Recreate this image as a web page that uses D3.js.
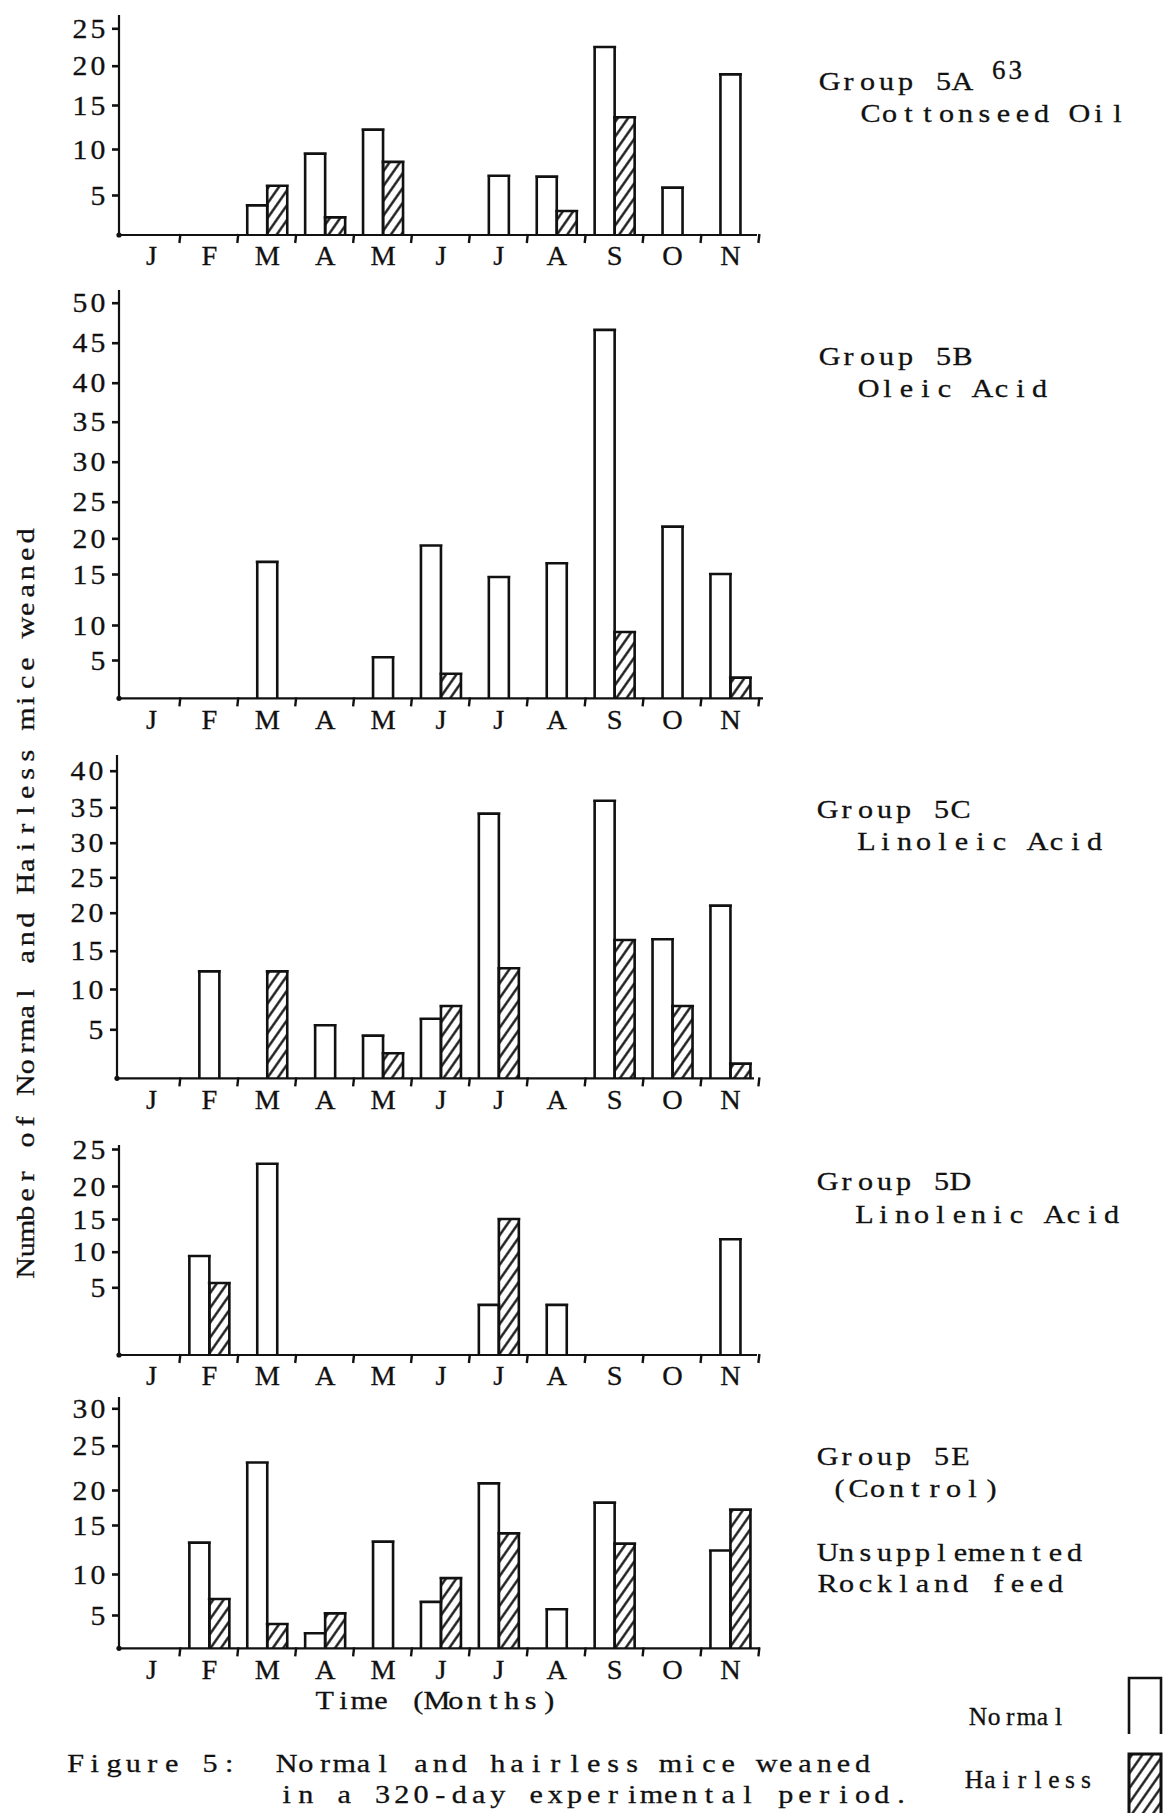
<!DOCTYPE html>
<html>
<head>
<meta charset="utf-8">
<script src="https://cdn.jsdelivr.net/npm/d3@7"></script>
<style>
  body { margin: 0; background: #fff; }
  svg { display: block; }
  text { font-family: "Liberation Serif", serif; fill: #111; stroke: #111; stroke-width: 0.3; white-space: pre; }
</style>
</head>
<body>
<svg id="chart"></svg>
<script>
const months = ["J", "F", "M", "A", "M", "J", "J", "A", "S", "O", "N"];

// Group 5A, cottonseed oil
const normal5A = [0, 0, 3.7, 9.5, 12.2, 0, 7.1, 7, 22.5, 5.8, 18.9];
const hairless5A = [0, 0, 6, 2.2, 8.6, 0, 0, 3, 13.6, 0, 0];
const ticks5A = [0, 5, 10, 15, 20, 25];

// Group 5B, oleic acid
const normal5B = [0, 0, 16.7, 0, 5.4, 19, 14.7, 16.5, 46.6, 21.6, 15];
const hairless5B = [0, 0, 0, 0, 0, 3.2, 0, 0, 9, 0, 2.7];
const ticks5B = [0, 5, 10, 15, 20, 25, 30, 35, 40, 45, 50];

// Group 5C, linoleic acid
const normal5C = [0, 12.3, 0, 5.5, 4.35, 6.3, 34.1, 0, 35.9, 16.5, 21];
const hairless5C = [0, 0, 12.3, 0, 2.55, 7.9, 12.7, 0, 16.4, 7.9, 1.5];
const ticks5C = [0, 5, 10, 15, 20, 25, 30, 35, 40];

// Group 5D, linolenic acid
const normal5D = [0, 9.4, 23, 0, 0, 0, 3.7, 3.7, 0, 0, 11.9];
const hairless5D = [0, 5.6, 0, 0, 0, 0, 15, 0, 0, 0, 0];
const ticks5D = [0, 5, 10, 15, 20, 25];

// Group 5E, control
const normal5E = [0, 13.2, 23.1, 2.25, 13.3, 6.6, 20.75, 5.7, 18.2, 0, 12.4];
const hairless5E = [0, 6.95, 3.65, 5.2, 0, 9.5, 14.15, 0, 13.1, 0, 17.2];
const ticks5E = [0, 5, 10, 15, 20, 25, 30];

const width = 1165;
const height = 1813;
const barW = 20;

// hand-typed axes: tick pixel positions measured per panel
const panels = [
  { normal: normal5A, hairless: hairless5A, ticks: ticks5A,
    tickPx: [235, 195, 149, 105, 65.7, 28.3], axisX: 119, top: 15, end: 757,
    notes: [["Group 5A", 820, 81], ["Cottonseed Oil", 861, 113]] },
  { normal: normal5B, hairless: hairless5B, ticks: ticks5B,
    tickPx: [698.3, 660, 625, 574, 538.3, 501.7, 461.7, 421.7, 382.7, 342.7, 302.7],
    axisX: 119, top: 290, end: 763,
    notes: [["Group 5B", 820, 356], ["Oleic Acid", 859, 388]] },
  { normal: normal5C, hairless: hairless5C, ticks: ticks5C,
    tickPx: [1078.3, 1029.3, 989, 950.7, 912.7, 877.3, 842.7, 807.3, 770.7],
    axisX: 117, top: 755, end: 754,
    notes: [["Group 5C", 818, 809], ["Linoleic Acid", 857, 841]] },
  { normal: normal5D, hairless: hairless5D, ticks: ticks5D,
    tickPx: [1355, 1287.3, 1251.7, 1219, 1186, 1149], axisX: 119, top: 1145, end: 757,
    notes: [["Group 5D", 818, 1181], ["Linolenic Acid", 855, 1214]] },
  { normal: normal5E, hairless: hairless5E, ticks: ticks5E,
    tickPx: [1648.3, 1615, 1574, 1525, 1490, 1445.7, 1408.3], axisX: 119, top: 1397, end: 760,
    notes: [["Group 5E", 818, 1456], ["(Control)", 830, 1488],
            ["Unsupplemented", 818, 1552], ["Rockland feed", 818, 1583]] }
];

const chart = d3
  .select("#chart")
  .attr("width", width)
  .attr("height", height)
  .attr("viewBox", `0 0 ${width} ${height}`);

chart.append("rect").attr("width", width).attr("height", height).attr("fill", "#fff");

// typewriter look: a serif face set on a fixed pitch, one glyph per cell
function typewrite(parent, str, x, y, opts = {}) {
  const { size = 26, pitch = 19, anchor = "start", stretch = 1.16, rotate = 0 } = opts;
  const chars = Array.from(str);
  const x0 = anchor === "middle" ? (-pitch * chars.length) / 2 : anchor === "end" ? -pitch * chars.length : 0;
  const xs = chars.map((c, i) => (x0 + pitch * (i + 0.5)) / stretch);
  return parent
    .append("text")
    .attr("transform", `translate(${x},${y}) rotate(${rotate}) scale(${stretch},1)`)
    .attr("x", xs.join(" "))
    .attr("y", 0)
    .attr("text-anchor", "middle")
    .attr("dominant-baseline", "central")
    .attr("font-size", size)
    .text(str);
}

const defs = chart.append("defs");
const hatch = defs
  .append("pattern")
  .attr("id", "hatch")
  .attr("patternUnits", "userSpaceOnUse")
  .attr("width", 8.5)
  .attr("height", 8.5)
  .attr("patternTransform", "rotate(35)");
hatch.append("rect").attr("width", 8.5).attr("height", 8.5).attr("fill", "#fff");
hatch
  .append("line")
  .attr("x1", 4.25).attr("x2", 4.25)
  .attr("y1", 0).attr("y2", 8.5)
  .attr("stroke", "#111")
  .attr("stroke-width", 2.3);

const xScale = d3
  .scaleBand()
  .domain(d3.range(months.length))
  .range([122.5, 759.4]);

// open-bottomed bar outline, top edge overhanging a little
const barPath = (x0, y0, y1) =>
  `M${x0},${y0}V${y1}M${x0 - 1.5},${y1}H${x0 + barW + 1.5}M${x0 + barW},${y1}V${y0}`;

panels.forEach((p) => {
  const yScale = d3.scaleLinear().domain(p.ticks).range(p.tickPx);
  const base = yScale(0);
  const g = chart.append("g");

  const bars = [];
  months.forEach((m, j) => {
    const c = xScale(j) + xScale.bandwidth() / 2;
    const paired = p.hairless[j] > 0;
    if (p.normal[j] > 0) {
      bars.push({ x: paired ? c - barW : c - barW / 2, v: p.normal[j], fill: "#fff" });
    }
    if (paired) {
      bars.push({ x: c, v: p.hairless[j], fill: "url(#hatch)" });
    }
  });

  g.selectAll("rect.bar")
    .data(bars)
    .enter()
    .append("rect")
    .attr("class", "bar")
    .attr("x", (d) => d.x)
    .attr("y", (d) => yScale(d.v))
    .attr("width", barW)
    .attr("height", (d) => base - yScale(d.v))
    .attr("fill", (d) => d.fill);

  g.selectAll("path.bar")
    .data(bars)
    .enter()
    .append("path")
    .attr("class", "bar")
    .attr("d", (d) => barPath(d.x, base, yScale(d.v)))
    .attr("fill", "none")
    .attr("stroke", "#111")
    .attr("stroke-width", 2.6);

  // x axis with month boundary ticks
  g.append("line")
    .attr("x1", p.axisX).attr("x2", p.end)
    .attr("y1", base).attr("y2", base)
    .attr("stroke", "#111")
    .attr("stroke-width", 2.2);

  g.selectAll("line.mtick")
    .data(d3.range(1, months.length + 1))
    .enter()
    .append("line")
    .attr("class", "mtick")
    .attr("x1", (k) => 122.5 + k * xScale.bandwidth())
    .attr("x2", (k) => 122.5 + k * xScale.bandwidth() - 1)
    .attr("y1", base - 1)
    .attr("y2", base + 8)
    .attr("stroke", "#111")
    .attr("stroke-width", 2.4);

  months.forEach((m, j) => {
    typewrite(g, m, xScale(j) + xScale.bandwidth() / 2, base + 21, { size: 27, anchor: "middle", stretch: 1.05 });
  });

  // y axis
  g.append("line")
    .attr("x1", p.axisX).attr("x2", p.axisX)
    .attr("y1", p.top).attr("y2", base)
    .attr("stroke", "#111")
    .attr("stroke-width", 2.2);
  g.append("circle").attr("cx", p.axisX).attr("cy", base).attr("r", 2.6).attr("fill", "#111");

  const yAxis = g
    .append("g")
    .attr("transform", `translate(${p.axisX}, 0)`)
    .call(d3.axisLeft(yScale).tickValues(p.ticks.slice(1)).tickSize(7).tickPadding(4))
    .attr("font-family", null)
    .attr("font-size", null);
  yAxis.select(".domain").remove();
  yAxis.selectAll(".tick line").attr("stroke", "#111").attr("stroke-width", 2.6);
  yAxis.selectAll(".tick text")
    .attr("font-size", 27)
    .attr("fill", "#111")
    .attr("text-anchor", "middle")
    .attr("dy", null)
    .attr("dominant-baseline", "central")
    .attr("transform", "scale(1.1,1)")
    .attr("x", function () {
      const n = this.textContent.length;
      return d3.range(n).map((i) => (-12 - 18 * (n - i - 0.5)) / 1.1).join(" ");
    });

  p.notes.forEach((d) => typewrite(g, d[0], d[1], d[2], { pitch: 19 }));
});

// page number
chart.append("text")
  .attr("x", 992).attr("y", 70)
  .attr("dominant-baseline", "central")
  .attr("font-size", 27)
  .attr("letter-spacing", 3)
  .attr("fill", "#444")
  .attr("stroke", "none")
  .text("63");

// axis titles
typewrite(chart, "Number of Normal and Hairless mice weaned", 25, 902,
  { pitch: 18.3, anchor: "middle", rotate: -90 });
typewrite(chart, "Time (Months)", 437, 1700, { pitch: 18.7, anchor: "middle" });

// caption
typewrite(chart, "Figure 5:", 66, 1763, { pitch: 19.2 });
typewrite(chart, "Normal and hairless mice weaned", 277, 1763, { pitch: 19.2 });
typewrite(chart, "in a 320-day experimental period.", 277, 1794, { pitch: 19.2 });

// legend
const legend = chart.append("g");
typewrite(legend, "Normal", 970, 1716, { size: 25, pitch: 16.1, stretch: 1.02 });
typewrite(legend, "Hairless", 966, 1779, { size: 25, pitch: 16, stretch: 1.02 });
legend.append("path")
  .attr("d", "M1129,1734V1678H1161V1734")
  .attr("fill", "none").attr("stroke", "#111").attr("stroke-width", 2.6);
legend.append("rect")
  .attr("x", 1129).attr("y", 1754).attr("width", 32).attr("height", 70)
  .attr("fill", "url(#hatch)").attr("stroke", "#111").attr("stroke-width", 3);
</script>
</body>
</html>
